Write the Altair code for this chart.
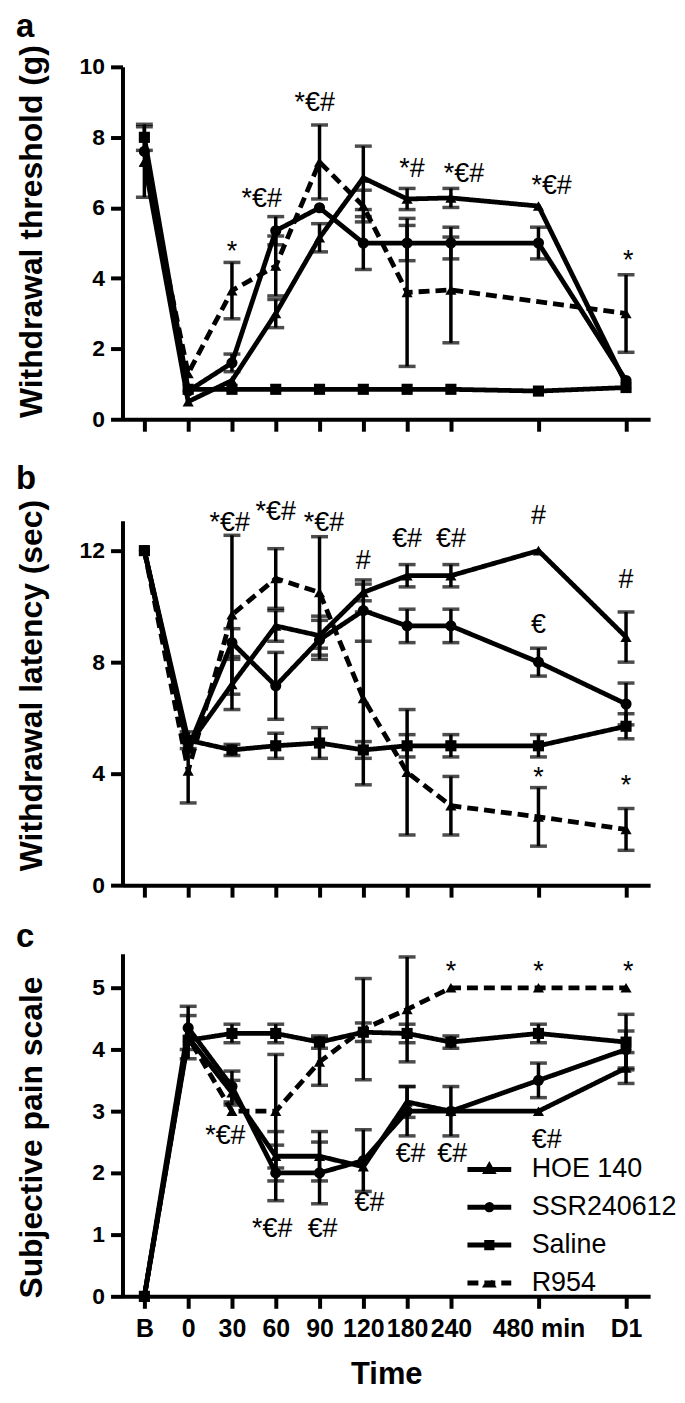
import json
import altair as alt
import pandas as pd

FONT = "Liberation Sans"

# ---------------- data ----------------
times = ["B", "0", "30", "60", "90", "120", "180", "240", "480 min", "D1"]
slots = [0, 1, 2, 3, 4, 5, 6, 7, 9, 11]
series_names = ["HOE 140", "SSR240612", "Saline", "R954"]

# panel a: withdrawal threshold (g)
a_hoe = [7.3, 0.5, 1.1, 3.0, 5.15, 6.85, 6.25, 6.28, 6.05, 1.0]
a_hoe_err = [0, 0, 0, 0.4, 0.4, 0.9, 0.3, 0.27, 0, 0]
a_ssr = [7.6, 0.8, 1.6, 5.35, 6.0, 5.0, 5.0, 5.0, 5.0, 1.1]
a_ssr_err = [0, 0, 0.25, 0.4, 0, 0.75, 0.5, 0.45, 0.45, 0]
a_sal = [8.0, 0.85, 0.85, 0.85, 0.85, 0.85, 0.85, 0.85, 0.8, 0.9]
a_sal_err = [0.37, 0, 0, 0, 0, 0, 0, 0, 0, 0]
a_r954 = [7.3, 1.3, 3.65, 4.35, 7.3, 6.05, 3.6, 3.67, None, 3.0]
a_r954_err = [1.0, 0, 0.8, 0.85, 1.05, 0.45, 2.1, 1.5, 0, 1.1]
a_ann_x = [2.0, 2.68, 3.89, 6.11, 7.3, 9.3, 11.05]
a_ann_y = [4.75, 6.25, 8.97, 7.1, 6.96, 6.63, 4.5]
a_ann_t = ["*", "*€#", "*€#", "*#", "*€#", "*€#", "*"]

# panel b: withdrawal latency (sec)
b_hoe = [12, 5.0, 7.2, 9.3, 8.95, 10.5, 11.1, 11.1, 12.0, 8.9]
b_hoe_err = [0, 0, 0.9, 0.55, 0.7, 0.3, 0.4, 0.4, 0, 0.9]
b_ssr = [12, 4.9, 8.7, 7.15, 8.8, 9.85, 9.3, 9.3, 8.0, 6.5]
b_ssr_err = [0, 0, 0.5, 1.2, 0.7, 1.1, 0.6, 0.6, 0.5, 0.75]
b_sal = [12, 5.2, 4.85, 5.0, 5.1, 4.85, 5.0, 5.0, 5.0, 5.7]
b_sal_err = [0, 0.3, 0.2, 0.45, 0.55, 0.3, 0.4, 0.4, 0.4, 0.45]
b_r954 = [12, 4.1, 9.7, 11.0, 10.5, 6.7, 4.05, 2.85, 2.45, 2.0]
b_r954_err = [0, 1.15, 2.85, 1.07, 2.0, 3.1, 2.25, 1.05, 1.05, 0.75]
b_ann_x = [1.95, 3.0, 4.1, 5.0, 6.0, 7.0, 9.0, 9.0, 9.0, 11.0, 11.0]
b_ann_y = [13.0, 13.37, 13.0, 11.64, 12.42, 12.42, 13.25, 9.32, 3.85, 10.93, 3.55]
b_ann_t = ["*€#", "*€#", "*€#", "#", "€#", "€#", "#", "€", "*", "#", "*"]

# panel c: subjective pain scale
c_hoe = [0, 4.2, 3.3, 2.27, 2.27, 2.1, 3.15, 3.0, 3.0, 3.7]
c_hoe_err = [0, 0, 0.2, 0.4, 0.4, 0, 0.25, 0, 0, 0.25]
c_ssr = [0, 4.35, 3.4, 2.0, 2.0, 2.2, 3.0, 3.0, 3.5, 4.0]
c_ssr_err = [0, 0.35, 0.25, 0.45, 0.5, 0.5, 0.4, 0.4, 0.28, 0.3]
c_sal = [0, 4.15, 4.26, 4.26, 4.12, 4.28, 4.26, 4.12, 4.26, 4.12]
c_sal_err = [0, 0, 0.15, 0.15, 0.1, 0.15, 0.15, 0.1, 0.15, 0.45]
c_r954 = [0, 4.2, 3.0, 3.0, 3.8, 4.33, 4.65, 5.0, 5.0, 5.0]
c_r954_err = [0, 0.35, 0, 0.92, 0.38, 0.82, 0.85, 0, 0, 0]
c_ann_x = [1.85, 2.92, 4.07, 5.14, 6.08, 7.03, 9.19, 7.0, 9.0, 11.05]
c_ann_y = [2.59, 1.09, 1.09, 1.52, 2.3, 2.3, 2.54, 5.25, 5.25, 5.25]
c_ann_t = ["*€#", "*€#", "€#", "€#", "€#", "€#", "€#", "*", "*", "*"]

shapes = ["triangle-up", "circle", "square", "triangle-up"]
dashes = [[1, 0], [1, 0], [1, 0], [11, 6]]
# legend glyphs: a stroke with the series marker in its middle (unit coords)
legend_glyphs = [
    "M-1,0H1M-0.14,0.1L0.14,0.1L0,-0.15Z",
    "M-1,0H1M-0.12,0A0.12,0.12,0,1,0,0.12,0A0.12,0.12,0,1,0,-0.12,0Z",
    "M-1,0H1M-0.12,-0.12H0.12V0.12H-0.12Z",
    "M-1,0H1M-0.14,0.1L0.14,0.1L0,-0.15Z",
]

# label lookup for the x axis
lab = [""] * 12
for s, t in zip(slots, times):
    lab[s] = t
label_expr = json.dumps(lab) + "[datum.value]"


def long_df(vals, errs):
    rows = []
    for name, v, e in zip(series_names, vals, errs):
        for s, val, er in zip(slots, v, e):
            if val is None:
                continue
            rows.append({"slot": s, "value": val, "err": er, "lo": val - er,
                         "hi": val + er, "series": name})
    return pd.DataFrame(rows)


W = 530


def make_panel(vals, errs, ann_x, ann_y, ann_t, ydom, yticks, ytitle, h,
               title_y, letter, letter_y, bottom):
    df = long_df(vals, errs)
    xscale = alt.Scale(domain=[-0.5, 11.55], nice=False, zero=False)
    xaxis = alt.Axis(values=slots, labelExpr=label_expr, labels=bottom,
                     title="Time" if bottom else None, grid=False,
                     labelOverlap=False, labelFlush=False, labelBound=False,
                     labelFont=FONT, labelFontSize=25, labelFontWeight="bold",
                     labelColor="black", labelPadding=8,
                     titleFont=FONT, titleFontSize=31, titleFontWeight="bold",
                     titleColor="black", titleY=88, titleBaseline="alphabetic",
                     tickSize=12, tickWidth=4, tickColor="black",
                     domainWidth=4, domainColor="black")
    yscale = alt.Scale(domain=ydom, nice=False, zero=True)
    yaxis = alt.Axis(values=yticks, title=ytitle, grid=False,
                     labelFont=FONT, labelFontSize=23, labelFontWeight="bold",
                     labelColor="black", labelPadding=6,
                     titleFont=FONT, titleFontSize=32, titleFontWeight="bold",
                     titleColor="black", titleX=-91, titleY=title_y,
                     titleAngle=270, titleBaseline="middle", titleAlign="center",
                     tickSize=12, tickWidth=4, tickColor="black",
                     domainWidth=4, domainColor="black")

    def X():
        return alt.X("slot:Q", scale=xscale, axis=xaxis)

    def Y(field):
        return alt.Y(field + ":Q", scale=yscale, axis=yaxis)

    base = alt.Chart(df)
    eb = df[df["err"] > 0]
    err_rule = alt.Chart(eb).mark_rule(color="black", strokeWidth=3.5).encode(
        x=X(), y=Y("lo"), y2="hi:Q")
    cap_lo = alt.Chart(eb).mark_tick(color="black", orient="horizontal",
                                     size=17, thickness=3.5).encode(x=X(), y=Y("lo"))
    cap_hi = alt.Chart(eb).mark_tick(color="black", orient="horizontal",
                                     size=17, thickness=3.5).encode(x=X(), y=Y("hi"))
    lines = base.mark_line(color="black", strokeWidth=4.8).encode(
        x=X(), y=Y("value"),
        strokeDash=alt.StrokeDash("series:N",
                                  scale=alt.Scale(domain=series_names, range=dashes),
                                  legend=None))
    pts = base.mark_point(filled=True, size=125, opacity=1, color="black").encode(
        x=X(), y=Y("value"),
        shape=alt.Shape("series:N", scale=alt.Scale(domain=series_names, range=shapes),
                        legend=None))
    ann = alt.Chart(pd.DataFrame({"slot": ann_x, "value": ann_y, "label": ann_t})
                    ).mark_text(font=FONT, fontSize=27, color="black",
                                align="center", baseline="middle").encode(
        x=X(), y=Y("value"), text="label:N")
    let = alt.Chart(pd.DataFrame({"t": [letter]})).mark_text(
        font=FONT, fontSize=33, fontWeight="bold", color="black",
        align="left", baseline="alphabetic").encode(
        text="t:N", x=alt.value(-107), y=alt.value(letter_y))
    layers = [err_rule, cap_lo, cap_hi, lines, pts, ann, let]
    if bottom:
        lg = alt.Legend(orient="none", legendX=344, legendY=192, title=None,
                        symbolSize=1936, symbolStrokeWidth=5,
                        symbolStrokeColor="black", symbolOpacity=1,
                        labelFont=FONT, labelFontSize=27, labelColor="black",
                        labelOffset=18, rowPadding=0, padding=0)
        key = base.transform_filter("false").mark_point(
            filled=False, color="black", stroke="black", opacity=1,
            strokeWidth=5, size=1936).encode(
            x=X(), y=Y("value"),
            shape=alt.Shape("series:N",
                            scale=alt.Scale(domain=series_names, range=legend_glyphs),
                            legend=lg),
            strokeDash=alt.StrokeDash("series:N",
                                      scale=alt.Scale(domain=series_names, range=dashes),
                                      legend=lg))
        layers.append(key)
    return alt.layer(*layers).resolve_scale(
        shape="independent", strokeDash="independent").properties(width=W, height=h)


pa = make_panel([a_hoe, a_ssr, a_sal, a_r954], [a_hoe_err, a_ssr_err, a_sal_err, a_r954_err],
                a_ann_x, a_ann_y, a_ann_t, [0, 10], [0, 2, 4, 6, 8, 10],
                "Withdrawal threshold (g)", 354, 165, "a", -30, False)
pb = make_panel([b_hoe, b_ssr, b_sal, b_r954], [b_hoe_err, b_ssr_err, b_sal_err, b_r954_err],
                b_ann_x, b_ann_y, b_ann_t, [0, 13.07], [0, 4, 8, 12],
                "Withdrawal latency (sec)", 366, 165, "b", -32, False)
pc = make_panel([c_hoe, c_ssr, c_sal, c_r954], [c_hoe_err, c_ssr_err, c_sal_err, c_r954_err],
                c_ann_x, c_ann_y, c_ann_t, [0, 5.55], [0, 1, 2, 3, 4, 5],
                "Subjective pain scale", 344, 184, "c", -7, True)

inner = alt.vconcat(pa, pb, spacing=30).resolve_scale(
    shape="independent", strokeDash="independent")
chart = alt.vconcat(inner, pc, spacing=22).resolve_scale(
    shape="independent", strokeDash="independent"
).properties(
    padding={"left": 7, "top": 0, "right": 0, "bottom": 0}
).configure_view(stroke=None)

chart.save("out.html", embed_options={"renderer": "svg", "actions": False})
